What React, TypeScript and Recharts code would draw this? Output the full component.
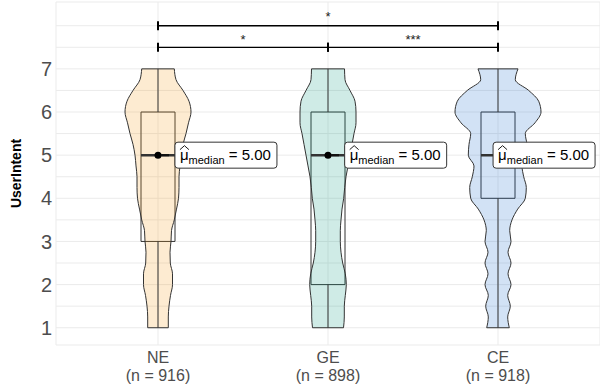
import React from 'react';
import {
  ComposedChart,
  Area,
  XAxis,
  YAxis,
  CartesianGrid,
  ReferenceLine,
  ReferenceArea,
  ReferenceDot,
} from 'recharts';

const groups = ['NE', 'GE', 'CE'];
const counts = [916, 898, 918];
const medians = [5, 5, 5];
const lowerQuartiles = [3, 2, 4];
const upperQuartiles = [6, 6, 6];
const minimums = [1, 1, 1];
const maximums = [7, 7, 7];

// density, at each quarter step of the 1-7 scale
const levels = [1, 1.25, 1.5, 1.75, 2, 2.25, 2.5, 2.75, 3, 3.25, 3.5, 3.75, 4, 4.25, 4.5, 4.75, 5, 5.25, 5.5, 5.75, 6, 6.25, 6.5, 6.75, 7];
const densityNE = [10.3, 10.3, 11, 12.5, 14.5, 14.5, 12.3, 12, 13, 13.5, 16.3, 18.5, 20.5, 21, 21, 22, 23, 25, 28, 30.5, 33, 31, 25, 18, 16.3];
const densityGE = [15.5, 16.3, 16.3, 17.3, 18.3, 17.3, 14.7, 13, 12.3, 12.3, 13, 14, 15.7, 16.7, 18, 20, 22, 24, 26, 28, 28, 27, 22, 17, 16.5];
const densityCE = [11.3, 9.7, 12.3, 9.7, 13, 10, 13, 10, 13, 11.7, 14, 19.7, 27.3, 28.3, 25.7, 24, 29.7, 29, 27.3, 37, 43, 40.7, 30.7, 17.3, 20];
const densities = [densityNE, densityGE, densityCE];

// pairwise comparisons shown as brackets
const pairFrom = [0, 1, 0];
const pairTo = [1, 2, 2];
const pairStars = ['*', '***', '*'];

const fills = ['#F59A1A', '#0E9C80', '#1F70CF'];
const FONT = '"Liberation Sans", Arial, Helvetica, sans-serif';
const DENSITY_SCALE = 1 / 170;
const BOX_HALF = 0.1;
const bracketLevels = [7.5, 7.5, 8];
const labelAnchor = [1.0997, 2.098, 2.971];

const violinRows = (g: number) =>
  levels.map((v, i) => ({
    v,
    r: [g + 1 - densities[g][i] * DENSITY_SCALE, g + 1 + densities[g][i] * DENSITY_SCALE],
  }));

const XTick = (props: any) => {
  const { x, y, payload } = props;
  const i = Math.round(payload.value) - 1;
  return (
    <text x={x} y={y} textAnchor="middle" fill="#4d4d4d" fontSize={16} fontFamily={FONT}>
      <tspan x={x} dy={17.5}>{groups[i]}</tspan>
      <tspan x={x} dy={18.5}>(n = {counts[i]})</tspan>
    </text>
  );
};

const YTitle = (props: any) => {
  const { viewBox } = props;
  const cx = viewBox.x + 16;
  const cy = viewBox.y + viewBox.height / 2;
  return (
    <text
      x={cx}
      y={cy}
      transform={`rotate(-90 ${cx} ${cy})`}
      textAnchor="middle"
      dominantBaseline="central"
      fontSize={14}
      fontWeight="bold"
      fill="#000"
      fontFamily={FONT}
    >
      UserIntent
    </text>
  );
};

const medianLabel = (g: number) => (props: any) => {
  const { viewBox } = props;
  const x = viewBox.x + viewBox.width / 2;
  const y = viewBox.y + viewBox.height / 2;
  return (
    <g>
      <rect x={x} y={y - 13} width={102} height={26} rx={3} ry={3} fill="#fff" stroke="#333" strokeWidth={1} />
      <path
        d={`M${x + 5} ${y - 5.5} L${x + 9.5} ${y - 9.5} L${x + 14} ${y - 5.5}`}
        fill="none"
        stroke="#000"
        strokeWidth={0.9}
      />
      <text x={x + 5} y={y + 5} fontSize={15} fill="#000" fontFamily={FONT}>
        <tspan>{'\u03bc'}</tspan>
        <tspan fontSize={11} dy={4}>median</tspan>
        <tspan dy={-4}>{` = ${medians[g].toFixed(2)}`}</tspan>
      </text>
    </g>
  );
};

export default function App() {
  return (
    <div style={{ position: 'absolute', left: 0, top: 0, width: 600, height: 388, background: '#fff' }}>
      <ComposedChart
        width={600}
        height={388}
        layout="vertical"
        margin={{ top: 2, right: 0, bottom: 0, left: 0 }}
      >
        <CartesianGrid stroke="#ebebeb" strokeWidth={1} />
        <XAxis
          type="number"
          domain={[0.4, 3.6]}
          allowDataOverflow
          ticks={[1, 2, 3]}
          interval={0}
          height={43}
          axisLine={false}
          tickLine={false}
          tickSize={0}
          tickMargin={0}
          tick={<XTick />}
        />
        <YAxis
          type="number"
          dataKey="v"
          reversed
          domain={[0.6, 8.55]}
          allowDataOverflow
          ticks={[1, 1.5, 2, 2.5, 3, 3.5, 4, 4.5, 5, 5.5, 6, 6.5, 7, 7.5, 8]}
          interval={0}
          width={56}
          axisLine={false}
          tickLine={false}
          tickSize={0}
          tickMargin={4}
          tickFormatter={(v: number) => (Number.isInteger(v) && v <= 7 ? String(v) : '')}
          tick={{ fill: '#4d4d4d', fontSize: 20, fontFamily: FONT }}
          label={{ content: <YTitle /> }}
        />

        {groups.map((_, g) => (
          <ReferenceArea
            key={`box-${g}`}
            x1={g + 1 - BOX_HALF}
            x2={g + 1 + BOX_HALF}
            y1={lowerQuartiles[g]}
            y2={upperQuartiles[g]}
            fill="none"
            fillOpacity={0}
            stroke="#333"
            strokeWidth={1}
            strokeOpacity={1}
          />
        ))}
        {groups.map((_, g) => (
          <ReferenceLine
            key={`wu-${g}`}
            segment={[{ x: g + 1, y: upperQuartiles[g] }, { x: g + 1, y: maximums[g] }]}
            stroke="#333"
            strokeWidth={1}
          />
        ))}
        {groups.map((_, g) => (
          <ReferenceLine
            key={`wl-${g}`}
            segment={[{ x: g + 1, y: minimums[g] }, { x: g + 1, y: lowerQuartiles[g] }]}
            stroke="#333"
            strokeWidth={1}
          />
        ))}
        {groups.map((_, g) => (
          <ReferenceLine
            key={`med-${g}`}
            segment={[{ x: g + 1 - BOX_HALF, y: medians[g] }, { x: g + 1 + BOX_HALF, y: medians[g] }]}
            stroke="#333"
            strokeWidth={2.5}
          />
        ))}

        {groups.map((name, g) => (
          <Area
            key={`violin-${g}`}
            name={name}
            data={violinRows(g)}
            dataKey="r"
            type="monotone"
            stroke="#333"
            strokeWidth={1}
            fill={fills[g]}
            fillOpacity={0.2}
            dot={false}
            activeDot={false}
            isAnimationActive={false}
          />
        ))}
        {groups.map((_, g) => (
          <ReferenceLine
            key={`cap-top-${g}`}
            segment={[
              { x: g + 1 - densities[g][levels.length - 1] * DENSITY_SCALE, y: levels[levels.length - 1] },
              { x: g + 1 + densities[g][levels.length - 1] * DENSITY_SCALE, y: levels[levels.length - 1] },
            ]}
            stroke="#333"
            strokeWidth={1}
          />
        ))}
        {groups.map((_, g) => (
          <ReferenceLine
            key={`cap-bot-${g}`}
            segment={[
              { x: g + 1 - densities[g][0] * DENSITY_SCALE, y: levels[0] },
              { x: g + 1 + densities[g][0] * DENSITY_SCALE, y: levels[0] },
            ]}
            stroke="#333"
            strokeWidth={1}
          />
        ))}

        {groups.map((_, g) => (
          <ReferenceLine
            key={`conn-${g}`}
            segment={[{ x: g + 1 + 0.02, y: medians[g] }, { x: g + 1 + 0.065, y: medians[g] }]}
            stroke="#111"
            strokeWidth={2.2}
          />
        ))}
        {groups.map((_, g) => (
          <ReferenceDot key={`dot-${g}`} x={g + 1} y={medians[g]} r={3.5} fill="#000" stroke="none" />
        ))}

        {pairFrom.map((from, k) => (
          <ReferenceLine
            key={`br-${k}`}
            segment={[{ x: from + 1, y: bracketLevels[k] }, { x: pairTo[k] + 1, y: bracketLevels[k] }]}
            stroke="#000"
            strokeWidth={1.3}
            label={{
              value: pairStars[k],
              position: 'top',
              offset: k === 2 ? 5 : 3,
              fill: '#222',
              fontSize: 13,
              fontFamily: FONT,
            }}
          />
        ))}
        {pairFrom.map((from, k) => (
          <ReferenceLine
            key={`brl-${k}`}
            segment={[{ x: from + 1, y: bracketLevels[k] - 0.105 }, { x: from + 1, y: bracketLevels[k] + 0.105 }]}
            stroke="#000"
            strokeWidth={2}
          />
        ))}
        {pairTo.map((to, k) => (
          <ReferenceLine
            key={`brr-${k}`}
            segment={[{ x: to + 1, y: bracketLevels[k] - 0.105 }, { x: to + 1, y: bracketLevels[k] + 0.105 }]}
            stroke="#000"
            strokeWidth={2}
          />
        ))}

        {groups.map((_, g) => (
          <ReferenceDot
            key={`lab-${g}`}
            x={labelAnchor[g]}
            y={medians[g]}
            r={1}
            fill="none"
            stroke="none"
            label={{ content: medianLabel(g) }}
          />
        ))}
      </ComposedChart>
    </div>
  );
}
